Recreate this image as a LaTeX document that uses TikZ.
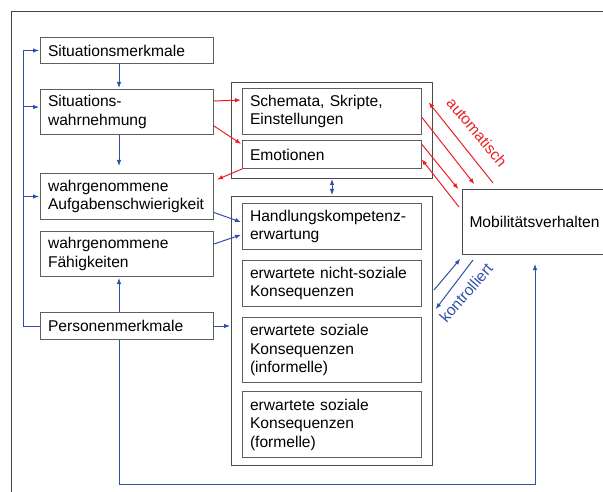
\documentclass[tikz,border=0pt]{standalone}
\usepackage{fontspec}
\setmainfont{Liberation Sans}
\usetikzlibrary{positioning,arrows.meta}
\definecolor{pfeilblau}{RGB}{47,80,168}
\definecolor{pfeilrot}{RGB}{236,32,36}
\definecolor{rahmen}{RGB}{95,95,95}

\begin{document}
\begin{tikzpicture}[x=1pt,y=1pt,>={Latex[length=6pt,width=4.5pt]},shorten >=1pt,
    kasten/.style={draw=rahmen,line width=1pt,align=left,inner xsep=7.5pt,inner ysep=2pt,
      anchor=north west,font=\fontsize{15.6}{18.5}\selectfont},
    links/.style={kasten,text width=158pt},
    rechts/.style={kasten,text width=164pt},
    gruppe/.style={draw=rahmen!80!black,line width=1pt,inner sep=0pt,anchor=north west},
    blau/.style={draw=pfeilblau,line width=1pt},
    rot/.style={draw=pfeilrot,line width=1pt}]
  \useasboundingbox (0,0) rectangle (603,-492);
  \clip (0,0) rectangle (603,-492);
  \draw[draw=rahmen!70!black,line width=1pt] (11,-12) rectangle (640,-520);

  % linke Spalte
  \node[links,minimum height=26pt] (sm) at (40,-37) {Situationsmerkmale};
  \node[links,minimum height=45pt,below=25pt of sm.south west,anchor=north west] (sw) {Situations-\\wahrnehmung};
  \node[links,minimum height=46pt,below=38pt of sw.south west,anchor=north west] (aw) {wahrgenommene\\Aufgabenschwierigkeit};
  \node[links,minimum height=45pt,below=11pt of aw.south west,anchor=north west] (fw) {wahrgenommene\\Fähigkeiten};
  \node[links,minimum height=27pt,below=35pt of fw.south west,anchor=north west] (pm) {Personenmerkmale};

  % mittlere Spalte
  \node[gruppe,minimum width=201pt,minimum height=96pt] (g1) at (231,-82) {};
  \node[rechts,minimum height=46pt] (sch) at ([xshift=11pt,yshift=-6pt]g1.north west) {Schemata, Skripte,\\Einstellungen};
  \node[rechts,minimum height=28pt,below=5pt of sch.south west,anchor=north west] (emo) {Emotionen};
  \node[gruppe,minimum width=201pt,minimum height=269pt,below=17pt of g1.south west,anchor=north west] (g2) {};
  \node[rechts,minimum height=46pt] (hk) at ([xshift=11pt,yshift=-7pt]g2.north west) {Handlungskompetenz-\\erwartung};
  \node[rechts,minimum height=46pt,below=10pt of hk.south west,anchor=north west] (nsk) {erwartete nicht-soziale\\Konsequenzen};
  \node[rechts,minimum height=65pt,below=10pt of nsk.south west,anchor=north west] (sik) {erwartete soziale\\Konsequenzen\\(informelle)};
  \node[rechts,minimum height=66pt,below=8pt of sik.south west,anchor=north west] (sfk) {erwartete soziale\\Konsequenzen\\(formelle)};

  % rechte Spalte
  \node[kasten,draw=rahmen!80!black,text width=139pt,inner xsep=7pt,minimum height=65pt] (mob) at (462,-189) {Mobilitätsverhalten};

  % blaue Pfeile links
  \coordinate (schiene) at (23,0);
  \coordinate (swein) at ([yshift=5pt]sw.west);
  \draw[blau,->] (pm.west) -- (pm.west -| schiene) |- (sm.west);
  \draw[blau,->] (schiene |- swein) -- (swein);
  \draw[blau,->] (schiene |- aw.west) -- (aw.west);
  \draw[blau,->] ([xshift=-8pt]sm.south) -- ([xshift=-8pt]sw.north);
  \draw[blau,->] ([xshift=-8pt]sw.south) -- ([xshift=-8pt,yshift=6pt]aw.north);
  \draw[blau,->] ([xshift=-8pt]pm.north) -- ([xshift=-8pt]fw.south);
  \draw[blau,->] (pm.east) -- (pm.east -| g2.west);
  \draw[blau,->] ([yshift=-16pt]aw.east) -- ([yshift=4pt]hk.west);
  \draw[blau,->] ([yshift=10pt]fw.east) -- ([yshift=-8pt]hk.west);
  \draw[blau,<->] (g1.south) -- (g2.north);
  \draw[blau,->,shorten >=9pt] ([xshift=-8pt]pm.south) -- ++(0,-144) -| ([xshift=-4pt]mob.south);

  % rote Pfeile
  \draw[rot,->] ([yshift=11pt]sw.east) -- ([yshift=11.5pt]sch.west);
  \draw[rot,->] ([yshift=-14pt]sw.east) -- ([yshift=10pt]emo.west);
  \draw[rot,->] (emo.south west) -- ([xshift=2pt,yshift=-7pt]aw.north east);
  \draw[rot,->] ([xshift=31pt,yshift=6pt]mob.north west) -- ([xshift=6pt,yshift=10pt]sch.east);
  \draw[rot,->] ([yshift=-6pt]sch.east) -- ([xshift=13pt,yshift=4pt]mob.north west);
  \draw[rot,->] ([yshift=10pt]emo.east) -- ([xshift=-3pt,yshift=-1pt]mob.north west);
  \draw[rot,->] ([xshift=-3pt,yshift=-18pt]mob.north west) -- ([xshift=-1pt,yshift=-4pt]emo.east);

  % blaue Pfeile rechts
  \draw[blau,->] ([xshift=1pt,yshift=-94pt]g2.north east) -- ([xshift=-1pt,yshift=-3pt]mob.south west);
  \draw[blau,->] ([xshift=11pt,yshift=-5pt]mob.south west) -- ([xshift=2pt,yshift=-114pt]g2.north east);

  \node[text=pfeilrot,rotate=-50,font=\fontsize{15.6}{18.5}\selectfont] (auto) at (477,-132) {automatisch};
  \node[text=pfeilblau,rotate=49,font=\fontsize{15.6}{18.5}\selectfont] (kontr) at (466,-293) {kontrolliert};
\end{tikzpicture}
\end{document}
